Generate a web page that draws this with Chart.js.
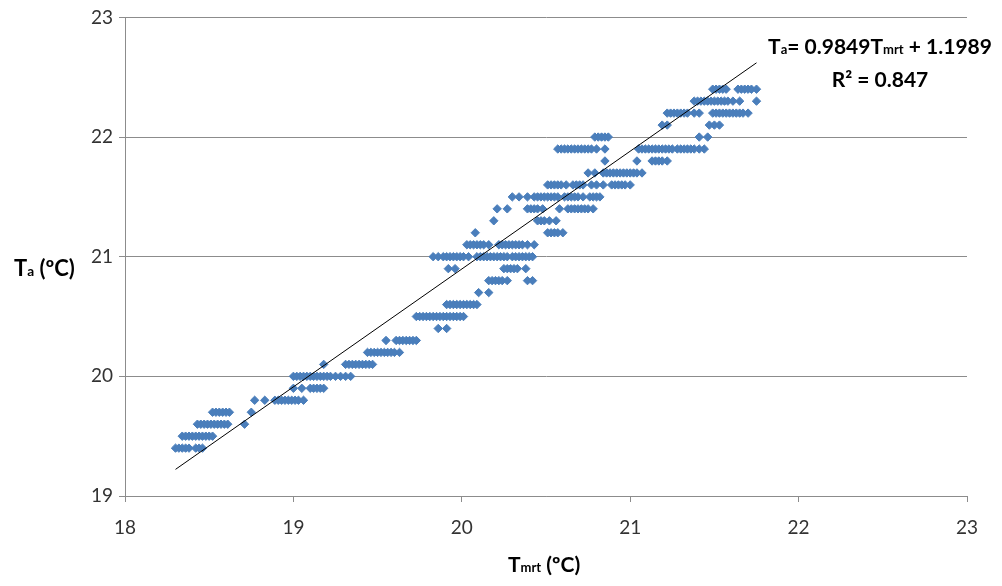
<!DOCTYPE html>
<html>
<head>
<meta charset="utf-8">
<script src="https://cdn.jsdelivr.net/npm/chart.js@4"></script>
<style>
  html, body { margin: 0; padding: 0; background: #fff; }
  #wrap { position: relative; width: 1002px; height: 586px; }
  canvas { position: absolute; left: 0; top: 0; }
  .lbl { position: absolute; font-family: Lato, "Liberation Sans", sans-serif; font-weight: bold; color: #000; white-space: nowrap; }
  .sub { font-size: 0.62em; }
</style>
</head>
<body>
<div id="wrap">
  <canvas id="c" width="1002" height="586"></canvas>
  <div class="lbl" id="ytitle" style="left:14px; top:254px; font-size:22px;">T<span class="sub">a</span> (ºC)</div>
  <div class="lbl" id="xtitle" style="left:508px; top:551px; font-size:21px;">T<span class="sub">mrt</span> (ºC)</div>
  <div class="lbl" id="eq" style="left:763px; top:31px; width:234px; font-size:21px; text-align:center; line-height:29px;">T<span class="sub">a</span>= 0.9849T<span class="sub">mrt</span> + 1.1989<br>R² = 0.847</div>
</div>
<script>
// Measured air temperature levels (Ta, °C) and the Tmrt readings (°C) observed at each level
const taLevels = [19.4, 19.5, 19.6, 19.7, 19.8, 19.9, 20.0, 20.1, 20.2, 20.3, 20.4, 20.5, 20.6, 20.7, 20.8, 20.9,
                  21.0, 21.1, 21.2, 21.3, 21.4, 21.5, 21.6, 21.7, 21.8, 21.9, 22.0, 22.1, 22.2, 22.3, 22.4];
const tmrtByLevel = [
  [18.30, 18.32, 18.34, 18.36, 18.38, 18.42, 18.44, 18.46],
  [18.34, 18.36, 18.38, 18.40, 18.42, 18.44, 18.46, 18.48, 18.50, 18.52],
  [18.43, 18.45, 18.47, 18.49, 18.51, 18.53, 18.55, 18.57, 18.59, 18.61, 18.71],
  [18.52, 18.54, 18.56, 18.58, 18.60, 18.62, 18.75],
  [18.77, 18.83, 18.89, 18.91, 18.93, 18.95, 18.97, 18.99, 19.01, 19.03, 19.06],
  [19.00, 19.05, 19.10, 19.12, 19.14, 19.16, 19.18],
  [19.00, 19.02, 19.04, 19.06, 19.08, 19.10, 19.12, 19.14, 19.16, 19.18, 19.20, 19.22, 19.25, 19.28, 19.31, 19.34],
  [19.18, 19.31, 19.33, 19.35, 19.37, 19.39, 19.41, 19.43, 19.45, 19.47],
  [19.44, 19.46, 19.48, 19.50, 19.52, 19.54, 19.56, 19.58, 19.60, 19.63],
  [19.55, 19.61, 19.63, 19.65, 19.67, 19.69, 19.71, 19.73],
  [19.86, 19.91],
  [19.73, 19.75, 19.77, 19.79, 19.81, 19.83, 19.85, 19.87, 19.89, 19.91, 19.93, 19.95, 19.97, 19.99, 20.01],
  [19.91, 19.93, 19.95, 19.97, 19.99, 20.01, 20.03, 20.05, 20.07, 20.09],
  [20.10, 20.16],
  [20.16, 20.18, 20.20, 20.22, 20.24, 20.27, 20.39, 20.42],
  [19.92, 19.96, 20.25, 20.27, 20.29, 20.31, 20.33, 20.38],
  [19.83, 19.86, 19.89, 19.91, 19.93, 19.95, 19.97, 19.99, 20.01, 20.04, 20.09, 20.11, 20.13, 20.15, 20.17, 20.19,
   20.21, 20.23, 20.25, 20.27, 20.30, 20.32, 20.34, 20.36, 20.38, 20.40, 20.42],
  [20.03, 20.05, 20.07, 20.09, 20.11, 20.13, 20.16, 20.22, 20.24, 20.26, 20.28, 20.30, 20.32, 20.34, 20.36, 20.39, 20.43],
  [20.08, 20.51, 20.53, 20.55, 20.57, 20.60],
  [20.19, 20.45, 20.47, 20.49, 20.52, 20.56],
  [20.21, 20.27, 20.39, 20.41, 20.43, 20.45, 20.48, 20.58, 20.63, 20.65, 20.67, 20.69, 20.71, 20.73, 20.75, 20.78],
  [20.30, 20.34, 20.39, 20.43, 20.45, 20.47, 20.49, 20.51, 20.53, 20.55, 20.57, 20.61, 20.63, 20.65, 20.67, 20.69,
   20.72, 20.76, 20.78, 20.80, 20.82],
  [20.51, 20.53, 20.55, 20.57, 20.59, 20.62, 20.66, 20.68, 20.70, 20.72, 20.77, 20.80, 20.84, 20.89, 20.91, 20.93,
   20.95, 20.97, 21.00],
  [20.75, 20.79, 20.84, 20.86, 20.88, 20.90, 20.92, 20.94, 20.96, 20.98, 21.00, 21.02, 21.04, 21.07],
  [20.85, 21.04, 21.13, 21.15, 21.17, 21.19, 21.22],
  [20.57, 20.59, 20.61, 20.63, 20.65, 20.67, 20.69, 20.71, 20.73, 20.75, 20.77, 20.80, 20.85, 21.05, 21.07, 21.09,
   21.11, 21.13, 21.15, 21.17, 21.19, 21.21, 21.23, 21.25, 21.28, 21.30, 21.32, 21.34, 21.36, 21.38, 21.41, 21.44],
  [20.79, 20.81, 20.83, 20.85, 20.87, 21.41, 21.46],
  [21.19, 21.22, 21.47, 21.50, 21.53],
  [21.22, 21.24, 21.26, 21.28, 21.30, 21.32, 21.34, 21.38, 21.41, 21.49, 21.51, 21.53, 21.55, 21.57, 21.59, 21.61,
   21.63, 21.65, 21.67, 21.70],
  [21.38, 21.40, 21.42, 21.44, 21.46, 21.48, 21.50, 21.52, 21.54, 21.56, 21.58, 21.61, 21.65, 21.75],
  [21.49, 21.51, 21.53, 21.55, 21.57, 21.64, 21.66, 21.68, 21.70, 21.72, 21.75]
];
// Linear trend line as printed on the chart
const trendSlope = 0.9849;
const trendIntercept = 1.1989;
const trendXRange = [18.3, 21.75];
// Axis ticks
const xTicks = [18, 19, 20, 21, 22, 23];
const yTicks = [19, 20, 21, 22, 23];

const scatterPoints = [];
taLevels.forEach((ta, i) => tmrtByLevel[i].forEach(x => scatterPoints.push({ x: x, y: ta })));
const trendPoints = trendXRange.map(x => ({ x: x, y: trendSlope * x + trendIntercept }));

const tickFont = { family: 'Lato, "Liberation Sans", sans-serif', size: 19 };
const gridColor = '#8c8c8c';

new Chart(document.getElementById('c'), {
  type: 'scatter',
  data: {
    datasets: [
      {
        label: 'Ta',
        data: scatterPoints,
        pointStyle: 'rectRot',
        pointRadius: 4.2,
        backgroundColor: '#4a7ebb',
        borderColor: '#4a7ebb',
        borderWidth: 1,
        order: 2
      },
      {
        label: 'trend',
        type: 'line',
        data: trendPoints,
        borderColor: '#000000',
        borderWidth: 1,
        pointRadius: 0,
        fill: false,
        order: 1
      }
    ]
  },
  options: {
    responsive: false,
    animation: false,
    events: [],
    layout: { padding: { left: 0, right: 35, top: 15, bottom: 0 } },
    plugins: { legend: { display: false }, tooltip: { enabled: false } },
    scales: {
      x: {
        type: 'linear',
        min: xTicks[0],
        max: xTicks[xTicks.length - 1],
        afterBuildTicks: s => { s.ticks = xTicks.map(v => ({ value: v })); },
        afterFit: s => { s.height = 90; },
        ticks: { font: tickFont, color: '#333333', padding: 14, maxRotation: 0 },
        grid: { drawOnChartArea: false, drawTicks: true, tickLength: 6, color: gridColor },
        border: { color: gridColor, width: 1 }
      },
      y: {
        type: 'linear',
        min: yTicks[0],
        max: yTicks[yTicks.length - 1],
        afterBuildTicks: s => { s.ticks = yTicks.map(v => ({ value: v })); },
        afterFit: s => { s.width = 125; },
        ticks: { font: tickFont, color: '#333333', padding: 6 },
        grid: { color: gridColor, tickLength: 6 },
        border: { color: gridColor, width: 1 }
      }
    }
  }
});
</script>
</body>
</html>
